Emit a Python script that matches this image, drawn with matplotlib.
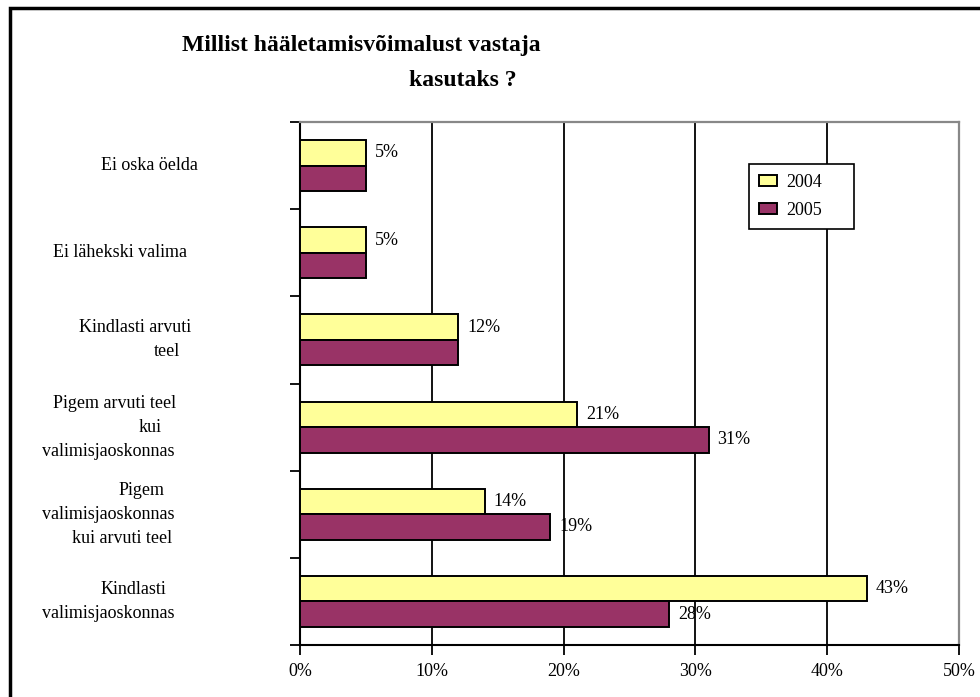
import matplotlib
matplotlib.use("Agg")
import matplotlib.pyplot as plt
from matplotlib.patches import Rectangle
from matplotlib.transforms import blended_transform_factory

# survey answers, top to bottom
categories = [
    ["Ei oska öelda"],
    ["Ei lähekski valima"],
    ["Kindlasti arvuti", "teel"],
    ["Pigem arvuti teel", "kui", "valimisjaoskonnas"],
    ["Pigem", "valimisjaoskonnas", "kui arvuti teel"],
    ["Kindlasti", "valimisjaoskonnas"],
]
series_names = ["2004", "2005"]
values_2004 = [5, 5, 12, 21, 14, 43]
values_2005 = [5, 5, 12, 31, 19, 28]
show_2004 = [True, True, True, True, True, True]
show_2005 = [False, False, False, True, True, True]
xticks = [0, 10, 20, 30, 40, 50]
title_lines = ["Millist hääletamisvõimalust vastaja", "kasutaks ?"]

# horizontal centre (pixels) of each line of the category labels
label_centers = [
    [149],
    [120],
    [135, 167],
    [115, 150, 108],
    [142, 108, 122],
    [133, 108],
]

W, H = 980, 697
YELLOW = "#FFFF99"
MAROON = "#993366"
plt.rcParams["font.family"] = ["Liberation Serif", "DejaVu Serif"]

fig = plt.figure(figsize=(W / 100, H / 100), dpi=100)
ax = fig.add_axes([300 / W, 1 - 645 / H, 659 / W, 523 / H])

n = len(categories)
ypos = list(range(n))
bh = 0.2925
y04 = [y - bh / 2 for y in ypos]
y05 = [y + bh / 2 for y in ypos]

ax.barh(y04, values_2004, height=bh, color=YELLOW, edgecolor="black",
        linewidth=1.4, label=series_names[0], zorder=3)
ax.barh(y05, values_2005, height=bh, color=MAROON, edgecolor="black",
        linewidth=1.4, label=series_names[1], zorder=3)

# value labels next to the bars
for ys, vals, flags in ((y04, values_2004, show_2004), (y05, values_2005, show_2005)):
    for y, v, f in zip(ys, vals, flags):
        if f:
            ax.annotate(f"{v}%", xy=(v, y), xytext=(6.5, 0), textcoords="offset points",
                        va="center", ha="left", fontsize=13, zorder=4)

ax.set_xlim(0, 50)
ax.set_ylim(n - 0.5, -0.5)
ax.set_xticks(xticks)
ax.set_xticklabels([f"{t}%" for t in xticks], fontsize=13)
ax.set_yticks([y - 0.5 for y in range(n + 1)])
ax.set_yticklabels([])
ax.tick_params(axis="x", length=7, width=1.3, pad=6, color="black")
ax.tick_params(axis="y", length=7, width=1.3, color="black")

for t in xticks[1:-1]:
    ax.axvline(t, color="black", linewidth=1.3, zorder=1)

for side in ("left", "bottom"):
    ax.spines[side].set_color("black")
    ax.spines[side].set_linewidth(1.5)
for side in ("top", "right"):
    ax.spines[side].set_color("#888888")
    ax.spines[side].set_linewidth(1.6)

# category labels, line by line
trans = blended_transform_factory(fig.transFigure, ax.transData)
line_step = 24 / 87.2
for y, lines, centers in zip(ypos, categories, label_centers):
    k = len(lines)
    for i, (txt, cx) in enumerate(zip(lines, centers)):
        ly = y + (i - (k - 1) / 2) * line_step
        ax.text(cx / W, ly, txt, transform=trans, ha="center", va="center",
                fontsize=13, clip_on=False)

leg = ax.legend(loc="upper left", bbox_to_anchor=(749 / W, 1 - 225 / H, 105 / W, 61 / H),
                bbox_transform=fig.transFigure, mode="expand", fontsize=13,
                frameon=True, fancybox=False, edgecolor="black", framealpha=1,
                handlelength=1.0, handleheight=0.55, handletextpad=0.5,
                labelspacing=0.6, borderpad=0.55, borderaxespad=0)
leg.get_frame().set_linewidth(1.2)
leg.set_zorder(5)

fig.text(182 / W, 1 - 45 / H, title_lines[0], fontsize=17, fontweight="bold",
         ha="left", va="center")
fig.text(409 / W, 1 - 80 / H, title_lines[1], fontsize=17, fontweight="bold",
         ha="left", va="center")

# outer chart frame
fig.patches.append(Rectangle((10 / W, -0.05), 1.2, 1 - 8 / H + 0.05,
                             transform=fig.transFigure, fill=False,
                             edgecolor="black", linewidth=2.5))

fig.savefig("out.png", dpi=100)
